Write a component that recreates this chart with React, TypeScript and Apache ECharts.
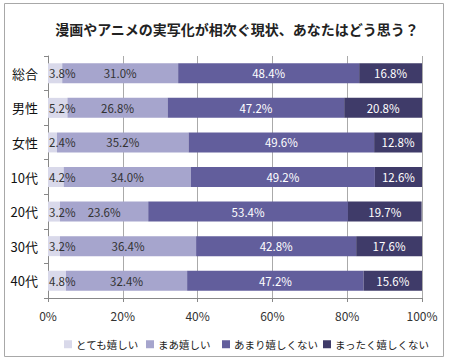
import React, { useEffect, useRef } from "react";
import * as echarts from "echarts";

const categories = ["総合", "男性", "女性", "10代", "20代", "30代", "40代"];
const seriesNames = ["とても嬉しい", "まあ嬉しい", "あまり嬉しくない", "まったく嬉しくない"];
const veryHappy = [3.8, 5.2, 2.4, 4.2, 3.2, 3.2, 4.8];
const somewhatHappy = [31.0, 26.8, 35.2, 34.0, 23.6, 36.4, 32.4];
const notVeryHappy = [48.4, 47.2, 49.6, 49.2, 53.4, 42.8, 47.2];
const notAtAllHappy = [16.8, 20.8, 12.8, 12.6, 19.7, 17.6, 15.6];
const xTicks = [0, 20, 40, 60, 80, 100];

const colors = ["#d9d9ea", "#a6a5cd", "#625e9c", "#3f3b69"];
const labelColors = ["#333", "#333", "#fff", "#fff"];
const legendLefts = [59, 141, 217, 318];
const FONT = "'Noto Sans CJK JP', sans-serif";

export default function App() {
  const ref = useRef<HTMLDivElement>(null);
  useEffect(() => {
    if (!ref.current) return;
    const chart = echarts.init(ref.current, null, { renderer: "svg" });
    const allData = [veryHappy, somewhatHappy, notVeryHappy, notAtAllHappy];
    chart.setOption({
      animation: false,
      textStyle: { fontFamily: FONT },
      title: {
        text: "漫画やアニメの実写化が相次ぐ現状、あなたはどう思う？",
        left: 232,
        top: 17,
        textAlign: "center",
        textStyle: { fontSize: 14, fontWeight: "bold", color: "#222", fontFamily: FONT },
      },
      graphic: [
        {
          type: "rect",
          shape: { x: 4.5, y: 3.5, width: 439, height: 353 },
          style: { fill: "none", stroke: "#a8a8a8", lineWidth: 1 },
          silent: true,
        },
      ],
      legend: seriesNames.map((n, i) => ({
        data: [n],
        left: legendLefts[i],
        top: 334,
        itemWidth: 8,
        itemHeight: 8,
        itemGap: 0,
        icon: "rect",
        textStyle: { fontSize: 10.5, color: "#222", fontFamily: FONT, padding: [0, 0, 0, -1] },
      })),
      grid: { left: 48, right: 28, top: 56, bottom: 64, containLabel: false },
      xAxis: {
        type: "value",
        min: xTicks[0],
        max: xTicks[xTicks.length - 1],
        interval: 20,
        axisLine: { show: true, lineStyle: { color: "#888" } },
        axisTick: { show: true, length: 4, lineStyle: { color: "#888" } },
        splitLine: { show: true, lineStyle: { color: "#aaa" } },
        axisLabel: {
          formatter: (v: number) => `${v}%`,
          fontSize: 12,
          color: "#333",
          margin: 11,
          fontFamily: FONT,
        },
      },
      yAxis: {
        type: "category",
        data: categories,
        inverse: true,
        axisLine: { show: true, lineStyle: { color: "#888" } },
        axisTick: { show: true, length: 4, lineStyle: { color: "#888" } },
        axisLabel: { fontSize: 13, color: "#111", margin: 10, fontFamily: FONT },
      },
      series: allData.map((d, i) => ({
        name: seriesNames[i],
        type: "bar",
        stack: "total",
        data: d,
        barWidth: 20,
        itemStyle: { color: colors[i] },
        label: {
          show: true,
          position: i === 0 ? "insideLeft" : "inside",
          distance: 1,
          formatter: (p: any) => `${Number(p.value).toFixed(1)}%`,
          fontSize: 11.5,
          color: labelColors[i],
          fontFamily: FONT,
        },
      })),
    });
    return () => chart.dispose();
  }, []);
  return (
    <div
      ref={ref}
      style={{ position: "fixed", left: 0, top: 0, width: 450, height: 362, background: "#fff" }}
    />
  );
}
